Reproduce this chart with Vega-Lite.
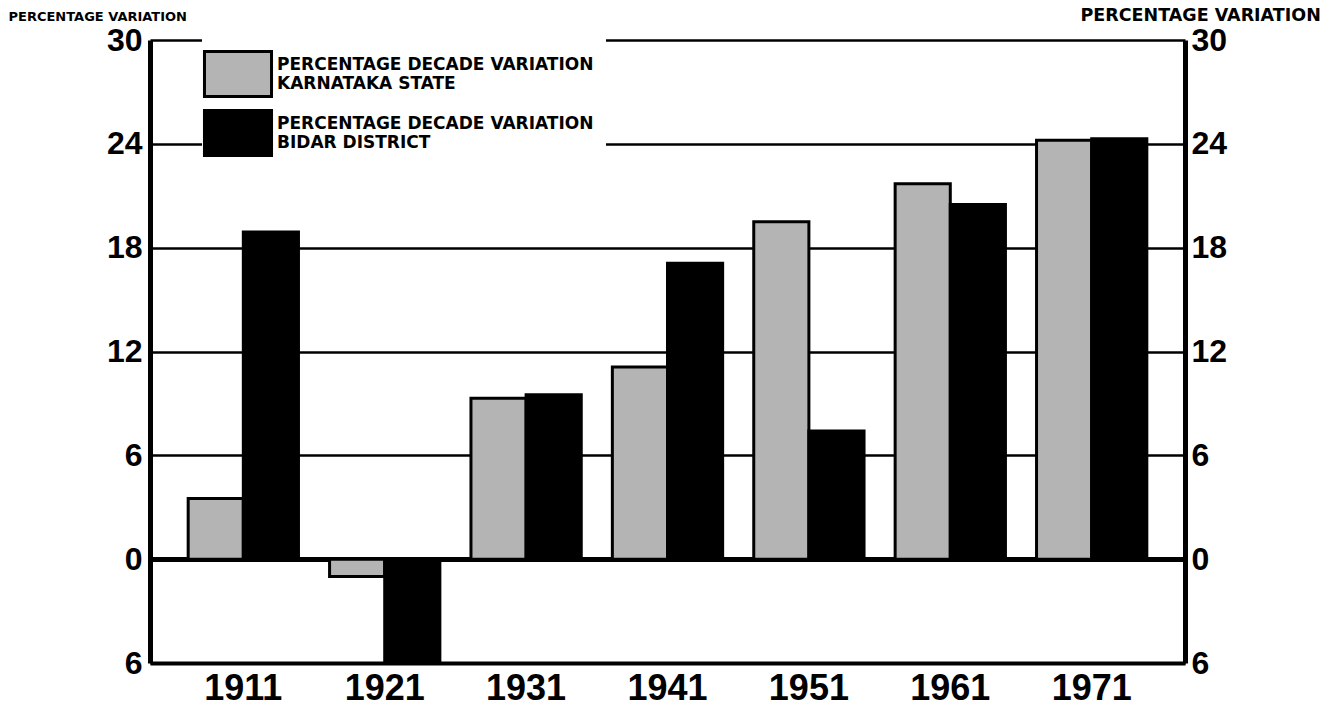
{
  "$schema": "https://vega.github.io/schema/vega-lite/v6.json",
  "width": 1035,
  "height": 623,
  "autosize": {"type": "none"},
  "padding": {"left": 150, "top": 40, "right": 151, "bottom": 56},
  "background": "white",
  "config": {"view": {"stroke": null}},
  "data": {
    "values": [
      {"year": "1911", "series": "PERCENTAGE DECADE VARIATION|KARNATAKA STATE", "value": 3.5},
      {"year": "1911", "series": "PERCENTAGE DECADE VARIATION|BIDAR DISTRICT", "value": 18.9},
      {"year": "1921", "series": "PERCENTAGE DECADE VARIATION|KARNATAKA STATE", "value": -1.0},
      {"year": "1921", "series": "PERCENTAGE DECADE VARIATION|BIDAR DISTRICT", "value": -6.0},
      {"year": "1931", "series": "PERCENTAGE DECADE VARIATION|KARNATAKA STATE", "value": 9.3},
      {"year": "1931", "series": "PERCENTAGE DECADE VARIATION|BIDAR DISTRICT", "value": 9.5},
      {"year": "1941", "series": "PERCENTAGE DECADE VARIATION|KARNATAKA STATE", "value": 11.1},
      {"year": "1941", "series": "PERCENTAGE DECADE VARIATION|BIDAR DISTRICT", "value": 17.1},
      {"year": "1951", "series": "PERCENTAGE DECADE VARIATION|KARNATAKA STATE", "value": 19.5},
      {"year": "1951", "series": "PERCENTAGE DECADE VARIATION|BIDAR DISTRICT", "value": 7.4},
      {"year": "1961", "series": "PERCENTAGE DECADE VARIATION|KARNATAKA STATE", "value": 21.7},
      {"year": "1961", "series": "PERCENTAGE DECADE VARIATION|BIDAR DISTRICT", "value": 20.5},
      {"year": "1971", "series": "PERCENTAGE DECADE VARIATION|KARNATAKA STATE", "value": 24.2},
      {"year": "1971", "series": "PERCENTAGE DECADE VARIATION|BIDAR DISTRICT", "value": 24.3}
    ]
  },
  "encoding": {
    "x": {
      "field": "year",
      "type": "nominal",
      "scale": {"paddingInner": 0.22, "paddingOuter": 0.27},
      "axis": {
        "title": null,
        "labelAngle": 0,
        "labelFont": "Liberation Sans",
        "labelFontWeight": "bold",
        "labelFontSize": 36,
        "labelColor": "black",
        "labelPadding": 8,
        "ticks": false,
        "domainColor": "black",
        "domainWidth": 4
      }
    },
    "xOffset": {
      "field": "series",
      "type": "nominal",
      "sort": ["PERCENTAGE DECADE VARIATION|KARNATAKA STATE", "PERCENTAGE DECADE VARIATION|BIDAR DISTRICT"]
    }
  },
  "layer": [
    {
      "mark": {"type": "bar", "stroke": "black", "strokeWidth": 3, "clip": true},
      "encoding": {
        "y": {
          "field": "value",
          "type": "quantitative",
          "scale": {"domain": [-6, 30], "nice": false, "zero": false},
          "axis": {
            "orient": "left",
            "values": [-6, 0, 6, 12, 18, 24, 30],
            "labelExpr": "abs(datum.value)",
            "labelFont": "Liberation Sans",
            "labelFontWeight": "bold",
            "labelFontSize": 32,
            "labelColor": "black",
            "labelPadding": 8,
            "ticks": false,
            "domainColor": "black",
            "domainWidth": 5,
            "grid": true,
            "gridColor": "black",
            "gridOpacity": 1,
            "gridWidth": {"condition": {"test": "datum.value === 0", "value": 5}, "value": 2.5},
            "title": "PERCENTAGE VARIATION",
            "titleAngle": 0,
            "titleFont": "DejaVu Sans",
            "titleFontWeight": "bold",
            "titleFontSize": 13,
            "titleColor": "black",
            "titleAlign": "left",
            "titleBaseline": "alphabetic",
            "titleX": -142,
            "titleY": -20
          }
        },
        "fill": {
          "field": "series",
          "type": "nominal",
          "scale": {
            "domain": ["PERCENTAGE DECADE VARIATION|KARNATAKA STATE", "PERCENTAGE DECADE VARIATION|BIDAR DISTRICT"],
            "range": ["#b4b4b4", "#000000"]
          },
          "legend": {
            "orient": "none",
            "legendX": 52,
            "legendY": -2,
            "padding": 12,
            "fillColor": "white",
            "title": null,
            "symbolType": "M-1.49,-1H1.49V1H-1.49Z",
            "symbolSize": 2025,
            "symbolStrokeColor": "black",
            "symbolStrokeWidth": 3,
            "symbolOpacity": 1,
            "labelFont": "DejaVu Sans",
            "labelFontWeight": "bold",
            "labelFontSize": 17,
            "labelColor": "black",
            "labelOffset": 15,
            "labelLimit": 600,
            "labelBaseline": "bottom",
            "rowPadding": 1,
            "labelExpr": "split(datum.label, '|')"
          }
        }
      }
    },
    {
      "mark": {"type": "bar", "opacity": 0},
      "encoding": {
        "y": {
          "field": "value",
          "type": "quantitative",
          "scale": {"domain": [-6, 30], "nice": false, "zero": false},
          "axis": {
            "orient": "right",
            "values": [-6, 0, 6, 12, 18, 24, 30],
            "labelExpr": "abs(datum.value)",
            "labelFont": "Liberation Sans",
            "labelFontWeight": "bold",
            "labelFontSize": 32,
            "labelColor": "black",
            "labelPadding": 6,
            "ticks": false,
            "domainColor": "black",
            "domainWidth": 5,
            "grid": false,
            "title": "PERCENTAGE VARIATION",
            "titleAngle": 0,
            "titleFont": "DejaVu Sans",
            "titleFontWeight": "bold",
            "titleFontSize": 17.5,
            "titleColor": "black",
            "titleAlign": "left",
            "titleBaseline": "alphabetic",
            "titleX": -105,
            "titleY": -20
          }
        }
      }
    }
  ],
  "resolve": {"scale": {"y": "independent"}}
}
